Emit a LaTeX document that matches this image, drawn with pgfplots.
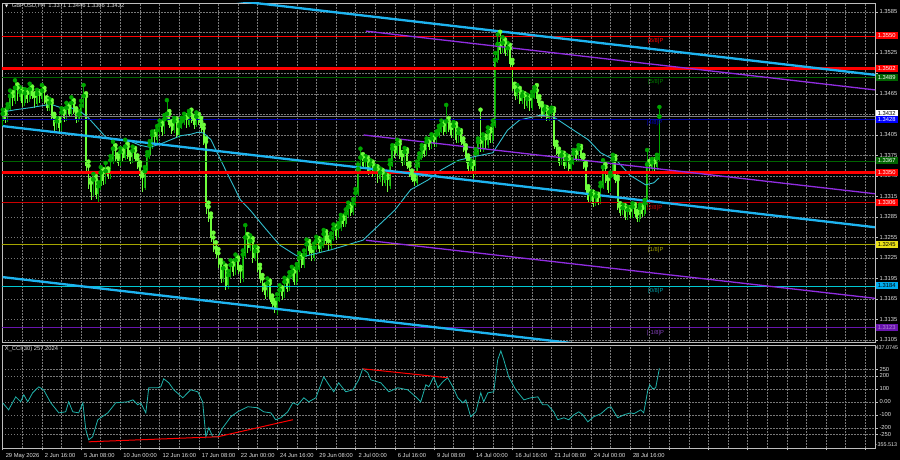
\documentclass[border=0pt]{standalone}
\usepackage{fontspec}
\setmainfont{Liberation Sans}
\newfontfamily\dejavu{DejaVu Sans}
\usepackage{pgfplots}
\usepackage{pgfplotstable}
\pgfplotsset{compat=1.18}

\definecolor{gridc}{RGB}{120,120,120}
\definecolor{framec}{RGB}{190,190,190}
\definecolor{labc}{RGB}{225,225,225}
\definecolor{bull}{RGB}{0,165,0}
\definecolor{bear}{RGB}{110,255,60}
\definecolor{mac}{RGB}{50,190,205}
\definecolor{ccic}{RGB}{32,178,170}
\definecolor{chblue}{RGB}{30,180,240}
\definecolor{chpurp}{RGB}{145,45,225}
\definecolor{lvgreen}{RGB}{0,100,0}
\definecolor{lvblue}{RGB}{0,0,170}
\definecolor{lvyell}{RGB}{165,165,0}
\definecolor{lvcyan}{RGB}{0,200,210}
\definecolor{lvpurp}{RGB}{105,20,175}

\def\fnt{\fontsize{5.8}{6.5}\selectfont}

% bar index, open, high, low, close (H4 bars)
\pgfplotstableread{
i o h l c
0 1.3425 1.3442 1.3418 1.3436
1 1.3436 1.3441 1.3422 1.3428
2 1.3428 1.3450 1.3424 1.3445
3 1.3445 1.3470 1.3440 1.3462
4 1.3462 1.3468 1.3448 1.3455
5 1.3455 1.3485 1.3450 1.3474
6 1.3474 1.3479 1.3455 1.3460
7 1.3460 1.3475 1.3455 1.3468
8 1.3468 1.3472 1.3446 1.3452
9 1.3452 1.3472 1.3448 1.3466
10 1.3466 1.3470 1.3452 1.3458
11 1.3458 1.3480 1.3454 1.3472
12 1.3472 1.3476 1.3457 1.3462
13 1.3462 1.3466 1.3444 1.3450
14 1.3450 1.3471 1.3446 1.3465
15 1.3465 1.3469 1.3452 1.3458
16 1.3458 1.3478 1.3454 1.3470
17 1.3470 1.3474 1.3450 1.3455
18 1.3455 1.3460 1.3440 1.3445
19 1.3445 1.3458 1.3440 1.3452
20 1.3452 1.3456 1.3428 1.3432
21 1.3432 1.3436 1.3410 1.3418
22 1.3418 1.3430 1.3412 1.3425
23 1.3425 1.3429 1.3410 1.3415
24 1.3415 1.3444 1.3411 1.3438
25 1.3438 1.3442 1.3424 1.3430
26 1.3430 1.3452 1.3426 1.3445
27 1.3445 1.3449 1.3431 1.3436
28 1.3436 1.3460 1.3432 1.3452
29 1.3452 1.3456 1.3435 1.3440
30 1.3440 1.3444 1.3422 1.3428
31 1.3428 1.3440 1.3424 1.3435
32 1.3435 1.3455 1.3430 1.3448
33 1.3448 1.3478 1.3444 1.3462
34 1.3462 1.3466 1.3350 1.3360
35 1.3360 1.3366 1.3326 1.3335
36 1.3335 1.3340 1.3310 1.3322
37 1.3322 1.3348 1.3316 1.3340
38 1.3340 1.3345 1.3312 1.3318
39 1.3318 1.3336 1.3305 1.3330
40 1.3330 1.3358 1.3325 1.3350
41 1.3350 1.3355 1.3332 1.3338
42 1.3338 1.3364 1.3334 1.3352
43 1.3352 1.3356 1.3340 1.3345
44 1.3345 1.3374 1.3340 1.3368
45 1.3368 1.3395 1.3362 1.3385
46 1.3385 1.3390 1.3366 1.3372
47 1.3372 1.3377 1.3360 1.3365
48 1.3365 1.3386 1.3360 1.3380
49 1.3380 1.3384 1.3366 1.3372
50 1.3372 1.3398 1.3368 1.3388
51 1.3388 1.3392 1.3370 1.3375
52 1.3375 1.3380 1.3362 1.3368
53 1.3368 1.3388 1.3364 1.3382
54 1.3382 1.3386 1.3365 1.3370
55 1.3370 1.3375 1.3355 1.3360
56 1.3360 1.3365 1.3340 1.3345
57 1.3345 1.3350 1.3322 1.3328
58 1.3328 1.3358 1.3324 1.3352
59 1.3352 1.3380 1.3348 1.3375
60 1.3375 1.3396 1.3370 1.3390
61 1.3390 1.3410 1.3385 1.3405
62 1.3405 1.3410 1.3392 1.3398
63 1.3398 1.3418 1.3394 1.3412
64 1.3412 1.3426 1.3406 1.3420
65 1.3420 1.3424 1.3404 1.3410
66 1.3410 1.3434 1.3406 1.3428
67 1.3428 1.3456 1.3424 1.3436
68 1.3436 1.3440 1.3415 1.3420
69 1.3420 1.3425 1.3406 1.3412
70 1.3412 1.3430 1.3408 1.3425
71 1.3425 1.3429 1.3400 1.3405
72 1.3405 1.3423 1.3401 1.3418
73 1.3418 1.3430 1.3414 1.3425
74 1.3425 1.3436 1.3420 1.3430
75 1.3430 1.3434 1.3415 1.3420
76 1.3420 1.3440 1.3416 1.3435
77 1.3435 1.3442 1.3423 1.3428
78 1.3428 1.3432 1.3414 1.3420
79 1.3420 1.3438 1.3416 1.3432
80 1.3432 1.3436 1.3420 1.3425
81 1.3425 1.3430 1.3410 1.3415
82 1.3415 1.3420 1.3390 1.3395
83 1.3395 1.3400 1.3290 1.3300
84 1.3300 1.3306 1.3278 1.3285
85 1.3285 1.3290 1.3248 1.3255
86 1.3255 1.3262 1.3234 1.3240
87 1.3240 1.3248 1.3225 1.3232
88 1.3232 1.3238 1.3210 1.3218
89 1.3218 1.3222 1.3188 1.3195
90 1.3195 1.3218 1.3190 1.3210
91 1.3210 1.3214 1.3178 1.3185
92 1.3185 1.3206 1.3180 1.3200
93 1.3200 1.3222 1.3195 1.3215
94 1.3215 1.3220 1.3198 1.3205
95 1.3205 1.3230 1.3200 1.3222
96 1.3222 1.3226 1.3202 1.3208
97 1.3208 1.3212 1.3188 1.3195
98 1.3195 1.3236 1.3190 1.3230
99 1.3230 1.3273 1.3225 1.3255
100 1.3255 1.3260 1.3232 1.3240
101 1.3240 1.3258 1.3235 1.3250
102 1.3250 1.3254 1.3218 1.3225
103 1.3225 1.3242 1.3220 1.3235
104 1.3235 1.3240 1.3204 1.3210
105 1.3210 1.3215 1.3188 1.3195
106 1.3195 1.3200 1.3175 1.3180
107 1.3180 1.3186 1.3165 1.3172
108 1.3172 1.3195 1.3168 1.3188
109 1.3188 1.3192 1.3160 1.3165
110 1.3165 1.3170 1.3152 1.3158
111 1.3158 1.3163 1.3145 1.3150
112 1.3150 1.3172 1.3142 1.3165
113 1.3165 1.3185 1.3160 1.3178
114 1.3178 1.3182 1.3164 1.3170
115 1.3170 1.3196 1.3166 1.3190
116 1.3190 1.3194 1.3175 1.3180
117 1.3180 1.3204 1.3176 1.3198
118 1.3198 1.3212 1.3193 1.3205
119 1.3205 1.3209 1.3185 1.3190
120 1.3190 1.3216 1.3186 1.3210
121 1.3210 1.3232 1.3205 1.3225
122 1.3225 1.3229 1.3210 1.3215
123 1.3215 1.3236 1.3210 1.3230
124 1.3230 1.3252 1.3226 1.3245
125 1.3245 1.3250 1.3230 1.3235
126 1.3235 1.3240 1.3220 1.3225
127 1.3225 1.3246 1.3220 1.3240
128 1.3240 1.3256 1.3236 1.3250
129 1.3250 1.3254 1.3233 1.3238
130 1.3238 1.3252 1.3234 1.3245
131 1.3245 1.3266 1.3240 1.3260
132 1.3260 1.3264 1.3245 1.3250
133 1.3250 1.3255 1.3237 1.3242
134 1.3242 1.3261 1.3238 1.3255
135 1.3255 1.3274 1.3250 1.3268
136 1.3268 1.3272 1.3252 1.3258
137 1.3258 1.3276 1.3254 1.3270
138 1.3270 1.3288 1.3265 1.3282
139 1.3282 1.3286 1.3270 1.3275
140 1.3275 1.3296 1.3270 1.3290
141 1.3290 1.3306 1.3285 1.3300
142 1.3300 1.3304 1.3287 1.3292
143 1.3292 1.3311 1.3288 1.3305
144 1.3305 1.3326 1.3300 1.3320
145 1.3320 1.3362 1.3316 1.3355
146 1.3355 1.3385 1.3350 1.3372
147 1.3372 1.3377 1.3355 1.3360
148 1.3360 1.3374 1.3355 1.3368
149 1.3368 1.3372 1.3347 1.3352
150 1.3352 1.3368 1.3348 1.3362
151 1.3362 1.3366 1.3343 1.3348
152 1.3348 1.3360 1.3344 1.3355
153 1.3355 1.3359 1.3335 1.3340
154 1.3340 1.3356 1.3336 1.3350
155 1.3350 1.3354 1.3330 1.3335
156 1.3335 1.3348 1.3331 1.3342
157 1.3342 1.3346 1.3322 1.3330
158 1.3330 1.3368 1.3326 1.3362
159 1.3362 1.3390 1.3358 1.3385
160 1.3385 1.3389 1.3372 1.3378
161 1.3378 1.3398 1.3374 1.3392
162 1.3392 1.3396 1.3370 1.3375
163 1.3375 1.3380 1.3360 1.3365
164 1.3365 1.3386 1.3361 1.3380
165 1.3380 1.3384 1.3355 1.3360
166 1.3360 1.3364 1.3343 1.3348
167 1.3348 1.3353 1.3336 1.3340
168 1.3340 1.3345 1.3330 1.3335
169 1.3335 1.3366 1.3331 1.3360
170 1.3360 1.3378 1.3356 1.3372
171 1.3372 1.3390 1.3368 1.3385
172 1.3385 1.3389 1.3373 1.3378
173 1.3378 1.3400 1.3374 1.3395
174 1.3395 1.3399 1.3383 1.3388
175 1.3388 1.3406 1.3384 1.3400
176 1.3400 1.3404 1.3387 1.3392
177 1.3392 1.3410 1.3388 1.3405
178 1.3405 1.3418 1.3400 1.3412
179 1.3412 1.3426 1.3408 1.3420
180 1.3420 1.3424 1.3405 1.3410
181 1.3410 1.3449 1.3406 1.3425
182 1.3425 1.3430 1.3410 1.3415
183 1.3415 1.3420 1.3400 1.3405
184 1.3405 1.3424 1.3400 1.3418
185 1.3418 1.3422 1.3393 1.3398
186 1.3398 1.3414 1.3394 1.3408
187 1.3408 1.3412 1.3390 1.3395
188 1.3395 1.3400 1.3380 1.3385
189 1.3385 1.3390 1.3364 1.3370
190 1.3370 1.3375 1.3350 1.3355
191 1.3355 1.3368 1.3350 1.3362
192 1.3362 1.3366 1.3342 1.3350
193 1.3350 1.3384 1.3346 1.3378
194 1.3378 1.3400 1.3374 1.3395
195 1.3395 1.3442 1.3380 1.3385
196 1.3385 1.3406 1.3380 1.3400
197 1.3400 1.3404 1.3385 1.3390
198 1.3390 1.3416 1.3386 1.3410
199 1.3410 1.3414 1.3393 1.3398
200 1.3398 1.3426 1.3394 1.3420
201 1.3420 1.3525 1.3415 1.3515
202 1.3515 1.3552 1.3510 1.3538
203 1.3538 1.3556 1.3524 1.3530
204 1.3530 1.3548 1.3525 1.3540
205 1.3540 1.3545 1.3520 1.3525
206 1.3525 1.3540 1.3520 1.3532
207 1.3532 1.3537 1.3505 1.3510
208 1.3510 1.3515 1.3470 1.3475
209 1.3475 1.3480 1.3456 1.3462
210 1.3462 1.3478 1.3458 1.3470
211 1.3470 1.3474 1.3450 1.3455
212 1.3455 1.3468 1.3450 1.3462
213 1.3462 1.3466 1.3443 1.3448
214 1.3448 1.3464 1.3444 1.3458
215 1.3458 1.3462 1.3440 1.3445
216 1.3445 1.3468 1.3441 1.3462
217 1.3462 1.3475 1.3458 1.3470
218 1.3470 1.3478 1.3452 1.3458
219 1.3458 1.3462 1.3443 1.3448
220 1.3448 1.3452 1.3430 1.3435
221 1.3435 1.3447 1.3431 1.3442
222 1.3442 1.3446 1.3425 1.3430
223 1.3430 1.3443 1.3426 1.3438
224 1.3438 1.3445 1.3433 1.3440
225 1.3440 1.3444 1.3385 1.3390
226 1.3390 1.3395 1.3375 1.3380
227 1.3380 1.3385 1.3360 1.3365
228 1.3365 1.3380 1.3361 1.3375
229 1.3375 1.3379 1.3355 1.3360
230 1.3360 1.3376 1.3356 1.3370
231 1.3370 1.3374 1.3350 1.3355
232 1.3355 1.3370 1.3351 1.3365
233 1.3365 1.3383 1.3361 1.3378
234 1.3378 1.3382 1.3365 1.3370
235 1.3370 1.3390 1.3366 1.3385
236 1.3385 1.3389 1.3368 1.3372
237 1.3372 1.3376 1.3355 1.3360
238 1.3360 1.3364 1.3320 1.3325
239 1.3325 1.3330 1.3305 1.3310
240 1.3310 1.3323 1.3306 1.3318
241 1.3318 1.3322 1.3300 1.3305
242 1.3305 1.3320 1.3301 1.3315
243 1.3315 1.3319 1.3303 1.3308
244 1.3308 1.3335 1.3304 1.3330
245 1.3330 1.3368 1.3326 1.3358
246 1.3358 1.3362 1.3335 1.3340
247 1.3340 1.3344 1.3320 1.3325
248 1.3325 1.3350 1.3321 1.3345
249 1.3345 1.3376 1.3341 1.3370
250 1.3370 1.3374 1.3335 1.3340
251 1.3340 1.3344 1.3295 1.3300
252 1.3300 1.3305 1.3287 1.3292
253 1.3292 1.3303 1.3288 1.3298
254 1.3298 1.3302 1.3280 1.3285
255 1.3285 1.3300 1.3281 1.3295
256 1.3295 1.3299 1.3283 1.3288
257 1.3288 1.3305 1.3284 1.3300
258 1.3300 1.3304 1.3285 1.3290
259 1.3290 1.3294 1.3278 1.3282
260 1.3282 1.3303 1.3278 1.3298
261 1.3298 1.3302 1.3285 1.3290
262 1.3290 1.3310 1.3286 1.3305
263 1.3305 1.3383 1.3300 1.3362
264 1.3362 1.3367 1.3350 1.3355
265 1.3355 1.3370 1.3351 1.3365
266 1.3365 1.3369 1.3352 1.3358
267 1.3358 1.3376 1.3354 1.3371
268 1.3371 1.3446 1.3366 1.3432
}\candles

\begin{document}
\begin{tikzpicture}
\useasboundingbox (0,0) rectangle (900pt,460pt);
\fill[black] (0,0) rectangle (900pt,460pt);

% ---------- price window ----------
\begin{axis}[
    at={(2pt,118pt)}, anchor=south west, scale only axis,
    width=873pt, height=339pt,
    xmin=-0.3, xmax=356, ymin=1.310205, ymax=1.359817,
    axis line style={draw=framec, line width=0.8pt},
    xtick={0,16,...,352}, minor xtick={8,24,...,344}, xticklabels={},
    major x tick style={draw=none}, minor x tick style={draw=none},
    xmajorgrids, xminorgrids, ymajorgrids,
    grid style={gridc, dash pattern=on 1.5pt off 1.5pt, line width=0.5pt},
    minor grid style={gridc, dash pattern=on 1.5pt off 1.5pt, line width=0.5pt},
    ytick={1.3105,1.3135,1.3165,1.3195,1.3225,1.3255,1.3285,1.3315,1.3345,1.3375,1.3405,1.3435,1.3465,1.3495,1.3525,1.3555,1.3585},
    yticklabels={1.3105,1.3135,1.3165,1.3195,1.3225,1.3255,1.3285,1.3315,1.3345,1.3375,1.3405,,1.3465,,1.3525,,1.3585},
    ytick pos=right, yticklabel pos=right, tick align=outside,
    major tick length=2.5pt, major y tick style={framec, line width=0.5pt},
    yticklabel style={font=\fnt, text=labc, xshift=-1.5pt},
]
% candles: wicks, then bodies
\addplot[only marks, mark=none, bear, restrict expr to domain={\thisrow{c}-\thisrow{o}}{-1:0},
  error bars/.cd, y dir=minus, y explicit, error mark=none,
  error bar style={line width=0.6pt, bear}]
  table[x=i, y=h, y error minus expr=\thisrow{h}-\thisrow{l}] {\candles};
\addplot[only marks, mark=none, bull, restrict expr to domain={\thisrow{c}-\thisrow{o}}{0.00001:1},
  error bars/.cd, y dir=minus, y explicit, error mark=none,
  error bar style={line width=0.6pt, bull}]
  table[x=i, y=h, y error minus expr=\thisrow{h}-\thisrow{l}] {\candles};
\addplot[only marks, mark=none, bear, restrict expr to domain={\thisrow{c}-\thisrow{o}}{-1:0},
  error bars/.cd, y dir=minus, y explicit, error mark=none,
  error bar style={line width=1.7pt, bear}]
  table[x=i, y=o, y error minus expr=\thisrow{o}-\thisrow{c}+0.00005] {\candles};
\addplot[only marks, mark=none, bull, restrict expr to domain={\thisrow{c}-\thisrow{o}}{0.00001:1},
  error bars/.cd, y dir=minus, y explicit, error mark=none,
  error bar style={line width=1.7pt, bull!60!bear}]
  table[x=i, y=c, y error minus expr=\thisrow{c}-\thisrow{o}] {\candles};
\addplot[only marks, mark=none, bull, restrict expr to domain={\thisrow{c}-\thisrow{o}}{0.00001:1},
  error bars/.cd, y dir=minus, y explicit, error mark=none,
  error bar style={line width=0.8pt, bull}]
  table[x=i, y=c, y error minus expr=\thisrow{c}-\thisrow{o}] {\candles};

% moving average
\addplot[mac, line width=0.9pt] coordinates {
(0.4,1.3439) (5.3,1.3442) (11.4,1.3445) (19.6,1.3450) (23.7,1.3445) (27.8,1.3445)
(31.8,1.3439) (34.7,1.3431) (38,1.3418) (42,1.3402) (46,1.3398) (52,1.3396)
(56,1.3390) (60,1.3387) (64.5,1.3392) (68.6,1.3398) (72.7,1.3404) (76.7,1.3406)
(79.6,1.3409) (82,1.3408) (85,1.3398) (89,1.3368) (93,1.3339) (97,1.3310)
(101,1.3295) (107,1.3269) (113,1.3244) (119.6,1.3229) (121.6,1.3226) (134,1.3237)
(147,1.3251) (160,1.3295) (166.5,1.3325) (173.5,1.3339) (179,1.3354) (186,1.3368)
(192,1.3373) (200,1.3379) (206,1.3412) (211,1.3427) (219.6,1.3434) (225,1.3431)
(233,1.3412) (239,1.3398) (244,1.3379) (251,1.3366) (256,1.3346) (262.4,1.3332)
(265.7,1.3335) (267.8,1.3342)};

% horizontal levels
\addplot[red, line width=0.8pt] coordinates {(-1,1.3550) (357,1.3550)};
\addplot[red, line width=2.5pt] coordinates {(-1,1.3502) (357,1.3502)};
\addplot[lvgreen, line width=0.9pt] coordinates {(-1,1.3489) (357,1.3489)};
\addplot[gray, line width=0.8pt] coordinates {(-1,1.3432) (357,1.3432)};
\addplot[lvblue, line width=1.5pt] coordinates {(-1,1.3428) (357,1.3428)};
\addplot[lvgreen, line width=0.9pt] coordinates {(-1,1.3367) (357,1.3367)};
\addplot[red, line width=2.5pt] coordinates {(-1,1.3350) (357,1.3350)};
\addplot[red!80!black, line width=0.8pt] coordinates {(-1,1.3306) (357,1.3306)};
\addplot[lvyell, line width=1.5pt] coordinates {(-1,1.3245) (357,1.3245)};
\addplot[lvcyan, line width=0.9pt] coordinates {(-1,1.3184) (357,1.3184)};
\addplot[lvpurp, line width=1.5pt] coordinates {(-1,1.3123) (357,1.3123)};

% regression channels
\addplot[chblue, line width=2.3pt] coordinates {(0,1.3641) (356,1.3493)};
\addplot[chblue, line width=2.3pt] coordinates {(0,1.3418) (356,1.3270)};
\addplot[chblue, line width=2.3pt] coordinates {(0,1.3197) (356,1.3049)};
\addplot[chpurp, line width=1.3pt] coordinates {(148.2,1.3557) (356,1.3471)};
\addplot[chpurp, line width=1.3pt] coordinates {(147.3,1.3405) (356,1.3319)};
\addplot[chpurp, line width=1.3pt] coordinates {(148.2,1.3251) (356,1.3166)};

% level names
\node[font=\fnt, text=red, anchor=west] at (axis cs:262,1.3543) {[6/8]P};
\node[font=\fnt, text=green!50!black, anchor=west] at (axis cs:262,1.3483) {[5/8]P};
\node[font=\fnt, text=blue!80!black, anchor=west] at (axis cs:261.5,1.3423) {[4/8]P};
\node[font=\fnt, text=red!85!black, anchor=west] at (axis cs:261.5,1.3298) {[2/8]P};
\node[font=\fnt, text=lvyell, anchor=west] at (axis cs:262,1.3237) {[1/8]P};
\node[font=\fnt, text=lvcyan!80!black, anchor=west] at (axis cs:262,1.3177) {[0/8]P};
\node[font=\fnt, text=lvpurp!80!white, anchor=west] at (axis cs:261.5,1.3115) {[-1/8]P};

\node[font=\fnt, text=labc, anchor=west, inner sep=0pt] at (axis cs:3.6,1.35935) {GBPUSD,H4\ \ 1.3371 1.3446 1.3366 1.3432};
\node[font={\dejavu\fontsize{4}{4}\selectfont}, text=white, anchor=west, inner sep=0pt] at (axis cs:0.9,1.35935) {▼};
\end{axis}

% right-hand price tags, drawn over the scale
\begin{axis}[
    at={(2pt,118pt)}, anchor=south west, scale only axis,
    width=873pt, height=339pt,
    xmin=-0.3, xmax=356, ymin=1.310205, ymax=1.359817,
    hide axis, clip=false,
]
\tikzset{tag/.style={font=\fnt, anchor=west, inner sep=0.5pt, minimum width=22pt, minimum height=7pt, xshift=0.5pt}}
\node[tag, fill=red, text=white] at (axis cs:356,1.3550) {1.3550};
\node[tag, fill=red, text=white] at (axis cs:356,1.3502) {1.3502};
\node[tag, fill=lvgreen, text=white] at (axis cs:356,1.3489) {1.3489};
\node[tag, fill=white, text=black] at (axis cs:356,1.3436) {1.3432};
\node[tag, fill=blue, text=white] at (axis cs:356,1.3427) {1.3428};
\node[tag, fill=lvgreen, text=white] at (axis cs:356,1.3367) {1.3367};
\node[tag, fill=red, text=white] at (axis cs:356,1.3350) {1.3350};
\node[tag, fill=red, text=white] at (axis cs:356,1.3306) {1.3306};
\node[tag, fill=yellow!90!black, text=black] at (axis cs:356,1.3245) {1.3245};
\node[tag, fill=cyan, text=black] at (axis cs:356,1.3184) {1.3184};
\node[tag, fill=lvpurp, text=lvpurp!50!white] at (axis cs:356,1.3123) {1.3123};
\end{axis}

% ---------- CCI window ----------
\begin{axis}[
    at={(2pt,12pt)}, anchor=south west, scale only axis,
    width=873pt, height=103pt,
    xmin=-0.3, xmax=356, ymin=-355.513, ymax=437.0745,
    clip=false,
    axis line style={draw=framec, line width=0.8pt},
    xtick={0,16,...,352}, minor xtick={8,24,...,344},
    xticklabels={29 May 2026,2 Jun 16:00,5 Jun 08:00,10 Jun 00:00,12 Jun 16:00,17 Jun 08:00,22 Jun 00:00,24 Jun 16:00,29 Jun 08:00,2 Jul 00:00,6 Jul 16:00,9 Jul 08:00,14 Jul 00:00,16 Jul 16:00,21 Jul 08:00,24 Jul 00:00,28 Jul 16:00,,,,,,},
    xtick pos=left, tick align=outside, major tick length=2.5pt,
    major x tick style={framec, line width=0.5pt}, minor x tick style={draw=none},
    xticklabel style={font=\fnt, text=labc, anchor=north west, xshift=-0.5pt, yshift=1pt},
    xmajorgrids, xminorgrids, ymajorgrids,
    grid style={gridc, dash pattern=on 1.5pt off 1.5pt, line width=0.5pt},
    minor grid style={gridc, dash pattern=on 1.5pt off 1.5pt, line width=0.5pt},
    ytick={-250,-200,-100,0,100,200,250},
    yticklabels={-250,-200,-100,0.00,100,200,250},
    ytick pos=right, yticklabel pos=right,
    major y tick style={framec, line width=0.5pt},
    yticklabel style={font=\fnt, text=labc, xshift=-1.5pt},
]
\addplot[ccic, line width=0.8pt] coordinates {
(0,-8) (2.4,-62) (5.3,38) (7.3,0) (8.6,54) (10.2,0) (12.2,69) (14.7,115) (16.7,92)
(19.6,-8) (22.9,-85) (25.7,-77) (26.9,0) (28.6,-77) (31,-85) (32.7,-8) (33.9,-215)
(35.1,-292) (36.7,-269) (38.8,-138) (42.9,-85) (46.1,-8) (51,0) (53.1,15) (55.1,-23)
(56.3,-8) (58.4,-85) (59.6,108) (63.3,108) (64.5,115) (65.7,177) (67.8,146) (69.8,92)
(73.5,31) (76.7,92) (79.6,77) (81.6,0) (82.9,-269) (84.1,-200) (85.7,-269) (87.8,-269)
(89.8,-200) (93.1,-115) (95.9,-77) (100,-38) (104.1,-46) (106.5,-77) (109.4,-85)
(111.4,-138) (113.5,-123) (116.3,-77) (118.4,-8) (120.4,-23) (122.9,31) (124.9,0)
(127.8,31) (131,192) (133.1,131) (135.1,77) (137.1,146) (140,77) (142.9,92) (145.3,169)
(146.9,254) (149,223) (150.2,169) (154.3,146) (157.6,77) (161.2,108) (165.3,92)
(168.6,38) (170.6,0) (172.7,131) (173.9,115) (175.9,192) (177.6,108) (179.6,154)
(181.6,185) (183.7,115) (185.7,31) (187.8,-8) (189,15) (191,-115) (193.1,-77) (195.1,69)
(196.3,0) (198,69) (200.4,77) (202,323) (203.3,392) (204.5,323) (206.5,192) (209.4,92)
(212.7,15) (215.5,31) (218.4,38) (220.4,-23) (222.4,-23) (224.9,-77) (226.5,-138)
(229,-123) (231,-138) (233.1,-100) (235.1,-77) (236.7,-100) (238.8,-154) (241.2,-115)
(244.1,-92) (246.9,-46) (248.2,-38) (251,-123) (253.5,-100) (256.3,-85) (257.6,-92)
(260.4,-62) (261.6,-85) (263.3,92) (264.1,131) (265.3,100) (266.5,108) (268,257.2)};

% divergence lines
\addplot[red, line width=1pt] coordinates {(35.1,-308) (87.8,-269) (118.4,-138)};
\addplot[red, line width=1pt] coordinates {(146.9,254) (181.6,185)};

\node[font=\fnt, text=labc, anchor=north west, inner sep=0pt] at (axis cs:0.8,425) {X\_CCI(30) 257.2024};
\node[font={\fontsize{5.4}{6}\selectfont}, text=labc, anchor=north west, inner sep=0pt, xshift=0.5pt] at (axis cs:356,430) {437.0745};
\node[font={\fontsize{5.4}{6}\selectfont}, text=labc, anchor=south west, inner sep=0pt, xshift=0.5pt] at (axis cs:356,-345) {-355.513};
\end{axis}
\end{tikzpicture}
\end{document}
